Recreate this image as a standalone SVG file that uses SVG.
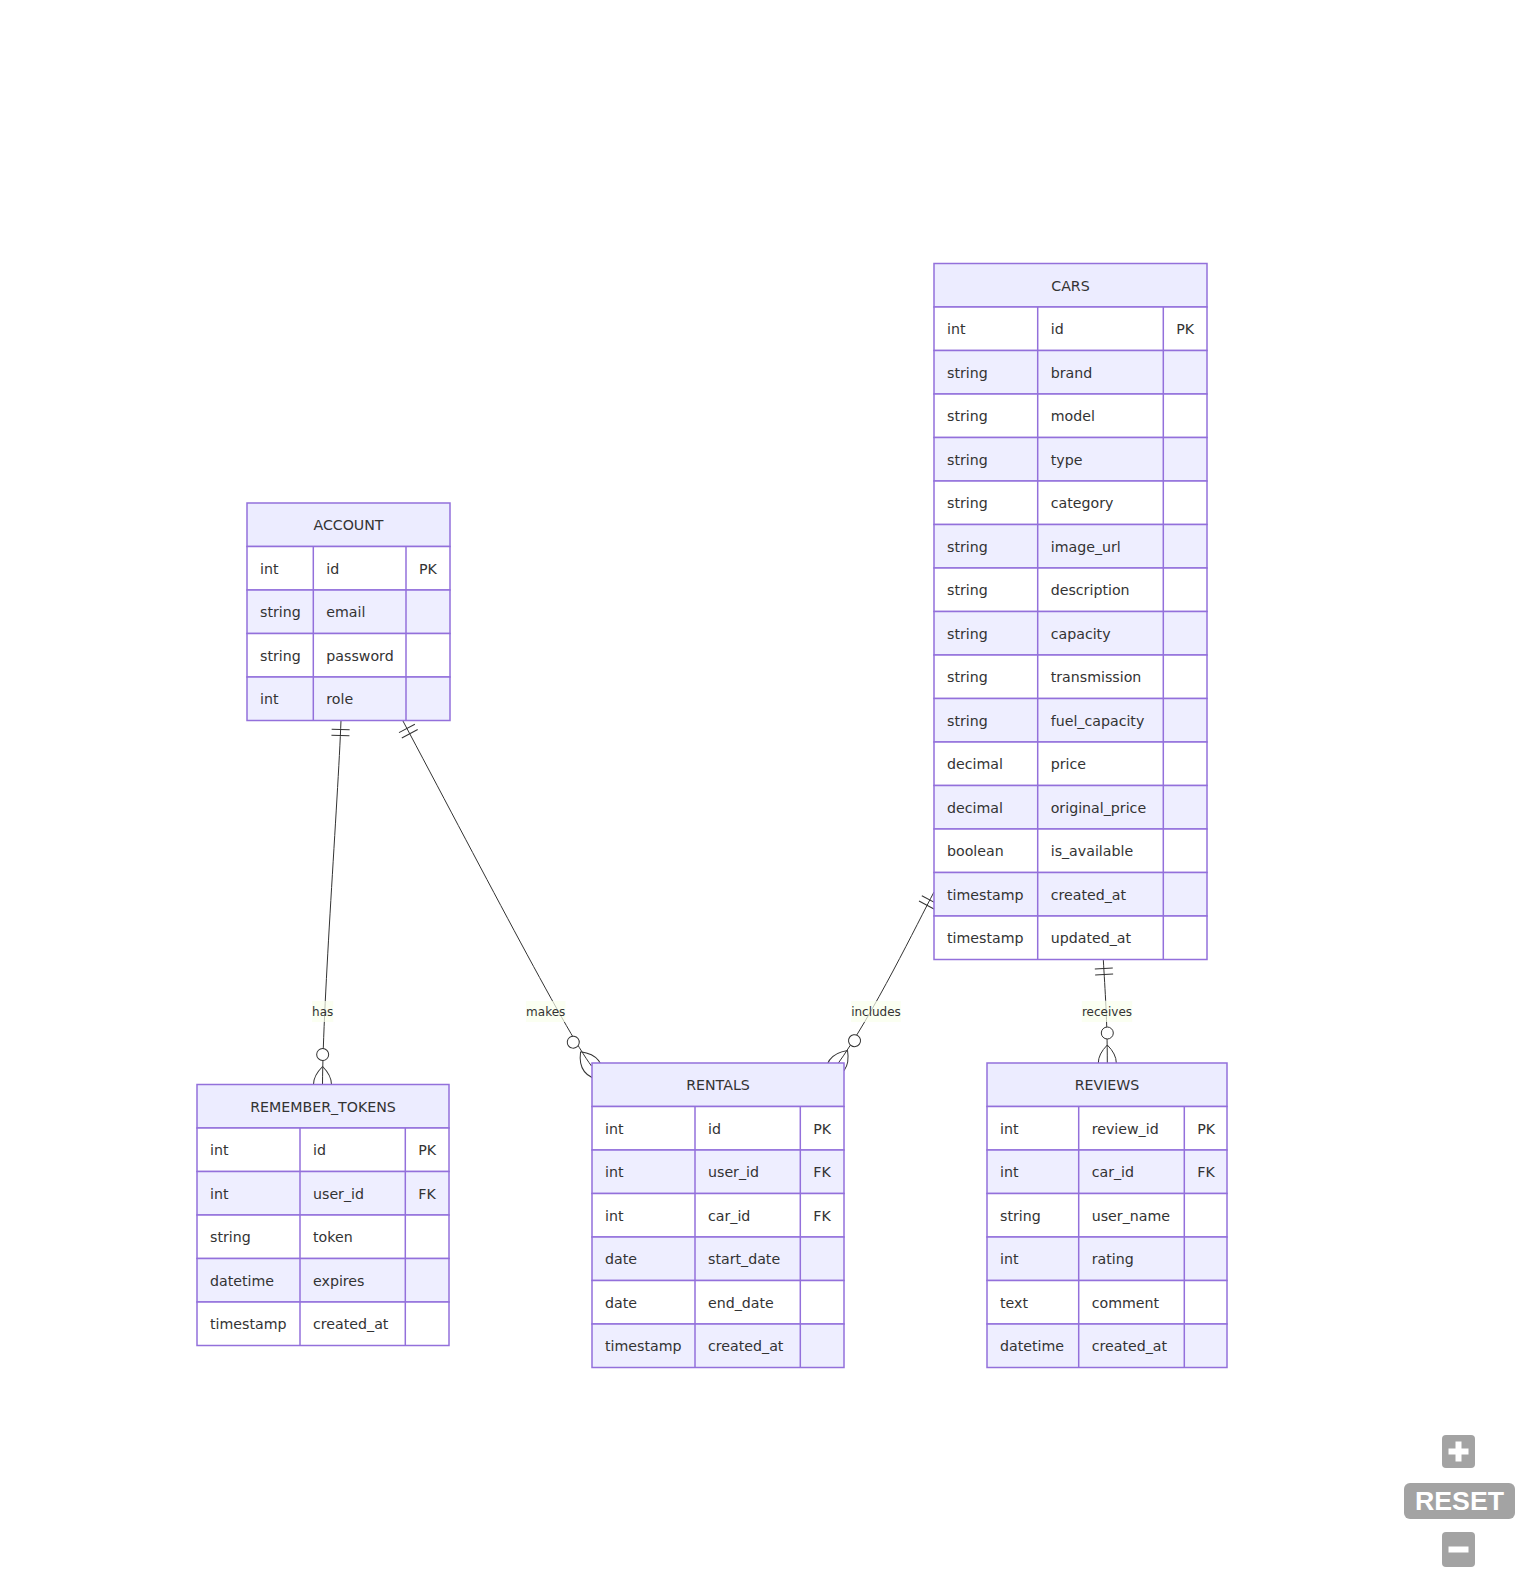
<svg xmlns="http://www.w3.org/2000/svg" width="1536" height="1582" viewBox="0 0 1536 1582">
<style>
  .hdr{fill:#ECECFF;stroke:#9370DB;stroke-width:1.5}
  .ro{fill:#FFFFFF;stroke:#9370DB;stroke-width:1.5}
  .re{fill:#EEEEFF;stroke:#9370DB;stroke-width:1.5}
  .div{stroke:#9370DB;stroke-width:1.5}
  .t{font-family:"DejaVu Sans","Liberation Sans",sans-serif;font-size:14.2px;fill:#333333;transform:translateY(1px)}
  .h{text-anchor:middle}
  .edge{fill:none;stroke:#333333;stroke-width:1}
  .lb{fill:#F9FFEC;opacity:0.7}
  .lt{font-family:"DejaVu Sans","Liberation Sans",sans-serif;font-size:12px;fill:#333333;text-anchor:middle}
  .btn{fill:#A3A3A3}
</style>
<defs>
  <marker id="oneStart" markerUnits="userSpaceOnUse" orient="auto" refX="0" refY="9" markerWidth="18" markerHeight="18" overflow="visible">
    <path d="M9,0 L9,18 M15,0 L15,18" fill="none" stroke="#333333" stroke-width="1"/>
  </marker>
  <marker id="zeroManyEnd" markerUnits="userSpaceOnUse" orient="auto" refX="39" refY="18" markerWidth="57" markerHeight="36" overflow="visible">
    <circle cx="9" cy="18" r="6" fill="#FFFFFF" stroke="#333333" stroke-width="1"/>
    <path d="M21,18 Q39,0 57,18 Q39,36 21,18" fill="none" stroke="#333333" stroke-width="1"/>
  </marker>
</defs>
<rect x="0" y="0" width="1536" height="1582" fill="#FFFFFF"/>

<g id="connectors">
  <path id="e-has" class="edge" d="M341,720.5 C338,800 323,1000 322.5,1084.5" marker-start="url(#oneStart)" marker-end="url(#zeroManyEnd)"/>
  <path id="e-makes" class="edge" d="M402.7,720.5 C473,852.5 567,1034 591.5,1066" marker-start="url(#oneStart)" marker-end="url(#zeroManyEnd)"/>
  <path id="e-includes" class="edge" d="M934,892 C918,922 873,1015 837,1065" marker-start="url(#oneStart)" marker-end="url(#zeroManyEnd)"/>
  <path id="e-receives" class="edge" d="M1103.3,959.5 C1105,990 1107.3,1020 1107.3,1063" marker-start="url(#oneStart)" marker-end="url(#zeroManyEnd)"/>
  <rect class="lb" x="312.1" y="1001" width="21.2" height="21"/>
  <text class="lt" x="322.7" y="1016">has</text>
  <rect class="lb" x="525.9" y="1001" width="39.6" height="21"/>
  <text class="lt" x="545.7" y="1016">makes</text>
  <rect class="lb" x="851.1" y="1001" width="49.7" height="21"/>
  <text class="lt" x="876" y="1016">includes</text>
  <rect class="lb" x="1081.8" y="1001" width="50.4" height="21"/>
  <text class="lt" x="1107" y="1016">receives</text>
</g>

<g id="ACCOUNT">
  <rect class="hdr" x="247" y="503" width="203" height="43.5"/>
  <text class="t h" x="348.5" y="529.25">ACCOUNT</text>
  <rect class="ro" x="247" y="546.5" width="203" height="43.5"/>
  <rect class="re" x="247" y="590" width="203" height="43.5"/>
  <rect class="ro" x="247" y="633.5" width="203" height="43.5"/>
  <rect class="re" x="247" y="677" width="203" height="43.5"/>
  <line class="div" x1="313.3" y1="546.5" x2="313.3" y2="720.5"/>
  <line class="div" x1="406" y1="546.5" x2="406" y2="720.5"/>
  <text class="t" x="260" y="572.75">int</text><text class="t" x="326.3" y="572.75">id</text><text class="t" x="419" y="572.75">PK</text>
  <text class="t" x="260" y="616.25">string</text><text class="t" x="326.3" y="616.25">email</text>
  <text class="t" x="260" y="659.75">string</text><text class="t" x="326.3" y="659.75">password</text>
  <text class="t" x="260" y="703.25">int</text><text class="t" x="326.3" y="703.25">role</text>
</g>

<g id="CARS">
  <rect class="hdr" x="934" y="263.5" width="273" height="43.5"/>
  <text class="t h" x="1070.5" y="289.75">CARS</text>
  <rect class="ro" x="934" y="307" width="273" height="43.5"/>
  <rect class="re" x="934" y="350.5" width="273" height="43.5"/>
  <rect class="ro" x="934" y="394" width="273" height="43.5"/>
  <rect class="re" x="934" y="437.5" width="273" height="43.5"/>
  <rect class="ro" x="934" y="481" width="273" height="43.5"/>
  <rect class="re" x="934" y="524.5" width="273" height="43.5"/>
  <rect class="ro" x="934" y="568" width="273" height="43.5"/>
  <rect class="re" x="934" y="611.5" width="273" height="43.5"/>
  <rect class="ro" x="934" y="655" width="273" height="43.5"/>
  <rect class="re" x="934" y="698.5" width="273" height="43.5"/>
  <rect class="ro" x="934" y="742" width="273" height="43.5"/>
  <rect class="re" x="934" y="785.5" width="273" height="43.5"/>
  <rect class="ro" x="934" y="829" width="273" height="43.5"/>
  <rect class="re" x="934" y="872.5" width="273" height="43.5"/>
  <rect class="ro" x="934" y="916" width="273" height="43.5"/>
  <line class="div" x1="1037.7" y1="307" x2="1037.7" y2="959.5"/>
  <line class="div" x1="1163.3" y1="307" x2="1163.3" y2="959.5"/>
  <text class="t" x="947" y="333.25">int</text><text class="t" x="1050.7" y="333.25">id</text><text class="t" x="1176.3" y="333.25">PK</text>
  <text class="t" x="947" y="376.75">string</text><text class="t" x="1050.7" y="376.75">brand</text>
  <text class="t" x="947" y="420.25">string</text><text class="t" x="1050.7" y="420.25">model</text>
  <text class="t" x="947" y="463.75">string</text><text class="t" x="1050.7" y="463.75">type</text>
  <text class="t" x="947" y="507.25">string</text><text class="t" x="1050.7" y="507.25">category</text>
  <text class="t" x="947" y="550.75">string</text><text class="t" x="1050.7" y="550.75">image_url</text>
  <text class="t" x="947" y="594.25">string</text><text class="t" x="1050.7" y="594.25">description</text>
  <text class="t" x="947" y="637.75">string</text><text class="t" x="1050.7" y="637.75">capacity</text>
  <text class="t" x="947" y="681.25">string</text><text class="t" x="1050.7" y="681.25">transmission</text>
  <text class="t" x="947" y="724.75">string</text><text class="t" x="1050.7" y="724.75">fuel_capacity</text>
  <text class="t" x="947" y="768.25">decimal</text><text class="t" x="1050.7" y="768.25">price</text>
  <text class="t" x="947" y="811.75">decimal</text><text class="t" x="1050.7" y="811.75">original_price</text>
  <text class="t" x="947" y="855.25">boolean</text><text class="t" x="1050.7" y="855.25">is_available</text>
  <text class="t" x="947" y="898.75">timestamp</text><text class="t" x="1050.7" y="898.75">created_at</text>
  <text class="t" x="947" y="942.25">timestamp</text><text class="t" x="1050.7" y="942.25">updated_at</text>
</g>

<g id="REMEMBER_TOKENS">
  <rect class="hdr" x="197" y="1084.5" width="252" height="43.5"/>
  <text class="t h" x="323" y="1110.75">REMEMBER_TOKENS</text>
  <rect class="ro" x="197" y="1128" width="252" height="43.5"/>
  <rect class="re" x="197" y="1171.5" width="252" height="43.5"/>
  <rect class="ro" x="197" y="1215" width="252" height="43.5"/>
  <rect class="re" x="197" y="1258.5" width="252" height="43.5"/>
  <rect class="ro" x="197" y="1302" width="252" height="43.5"/>
  <line class="div" x1="300" y1="1128" x2="300" y2="1345.5"/>
  <line class="div" x1="405.3" y1="1128" x2="405.3" y2="1345.5"/>
  <text class="t" x="210" y="1154.25">int</text><text class="t" x="313" y="1154.25">id</text><text class="t" x="418.3" y="1154.25">PK</text>
  <text class="t" x="210" y="1197.75">int</text><text class="t" x="313" y="1197.75">user_id</text><text class="t" x="418.3" y="1197.75">FK</text>
  <text class="t" x="210" y="1241.25">string</text><text class="t" x="313" y="1241.25">token</text>
  <text class="t" x="210" y="1284.75">datetime</text><text class="t" x="313" y="1284.75">expires</text>
  <text class="t" x="210" y="1328.25">timestamp</text><text class="t" x="313" y="1328.25">created_at</text>
</g>

<g id="RENTALS">
  <rect class="hdr" x="592" y="1063" width="252" height="43.5"/>
  <text class="t h" x="718" y="1089.25">RENTALS</text>
  <rect class="ro" x="592" y="1106.5" width="252" height="43.5"/>
  <rect class="re" x="592" y="1150" width="252" height="43.5"/>
  <rect class="ro" x="592" y="1193.5" width="252" height="43.5"/>
  <rect class="re" x="592" y="1237" width="252" height="43.5"/>
  <rect class="ro" x="592" y="1280.5" width="252" height="43.5"/>
  <rect class="re" x="592" y="1324" width="252" height="43.5"/>
  <line class="div" x1="695" y1="1106.5" x2="695" y2="1367.5"/>
  <line class="div" x1="800.3" y1="1106.5" x2="800.3" y2="1367.5"/>
  <text class="t" x="605" y="1132.75">int</text><text class="t" x="708" y="1132.75">id</text><text class="t" x="813.3" y="1132.75">PK</text>
  <text class="t" x="605" y="1176.25">int</text><text class="t" x="708" y="1176.25">user_id</text><text class="t" x="813.3" y="1176.25">FK</text>
  <text class="t" x="605" y="1219.75">int</text><text class="t" x="708" y="1219.75">car_id</text><text class="t" x="813.3" y="1219.75">FK</text>
  <text class="t" x="605" y="1263.25">date</text><text class="t" x="708" y="1263.25">start_date</text>
  <text class="t" x="605" y="1306.75">date</text><text class="t" x="708" y="1306.75">end_date</text>
  <text class="t" x="605" y="1350.25">timestamp</text><text class="t" x="708" y="1350.25">created_at</text>
</g>

<g id="REVIEWS">
  <rect class="hdr" x="987" y="1063" width="240" height="43.5"/>
  <text class="t h" x="1107" y="1089.25">REVIEWS</text>
  <rect class="ro" x="987" y="1106.5" width="240" height="43.5"/>
  <rect class="re" x="987" y="1150" width="240" height="43.5"/>
  <rect class="ro" x="987" y="1193.5" width="240" height="43.5"/>
  <rect class="re" x="987" y="1237" width="240" height="43.5"/>
  <rect class="ro" x="987" y="1280.5" width="240" height="43.5"/>
  <rect class="re" x="987" y="1324" width="240" height="43.5"/>
  <line class="div" x1="1078.7" y1="1106.5" x2="1078.7" y2="1367.5"/>
  <line class="div" x1="1184.3" y1="1106.5" x2="1184.3" y2="1367.5"/>
  <text class="t" x="1000" y="1132.75">int</text><text class="t" x="1091.7" y="1132.75">review_id</text><text class="t" x="1197.3" y="1132.75">PK</text>
  <text class="t" x="1000" y="1176.25">int</text><text class="t" x="1091.7" y="1176.25">car_id</text><text class="t" x="1197.3" y="1176.25">FK</text>
  <text class="t" x="1000" y="1219.75">string</text><text class="t" x="1091.7" y="1219.75">user_name</text>
  <text class="t" x="1000" y="1263.25">int</text><text class="t" x="1091.7" y="1263.25">rating</text>
  <text class="t" x="1000" y="1306.75">text</text><text class="t" x="1091.7" y="1306.75">comment</text>
  <text class="t" x="1000" y="1350.25">datetime</text><text class="t" x="1091.7" y="1350.25">created_at</text>
</g>

<g id="zoom-controls">
  <rect class="btn" x="1442" y="1435" width="33" height="33" rx="4"/>
  <rect x="1448.5" y="1448.5" width="20" height="6" fill="#FFFFFF"/>
  <rect x="1455.5" y="1441.5" width="6" height="20" fill="#FFFFFF"/>
  <rect class="btn" x="1404" y="1483" width="111" height="36" rx="6"/>
  <text x="1459.5" y="1510" text-anchor="middle" font-family="Liberation Sans, Arial, sans-serif" font-weight="bold" font-size="26" fill="#FFFFFF" textLength="89" lengthAdjust="spacingAndGlyphs">RESET</text>
  <rect class="btn" x="1442" y="1532" width="33" height="35" rx="4"/>
  <rect x="1448.5" y="1546.5" width="20" height="6" fill="#FFFFFF"/>
</g>
</svg>
